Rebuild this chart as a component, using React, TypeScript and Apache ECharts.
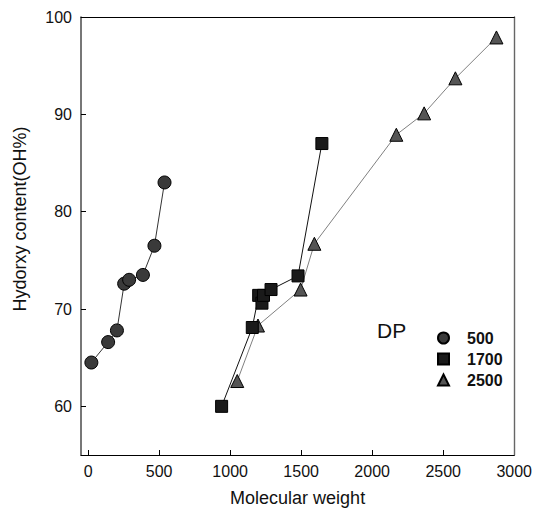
import { useEffect, useRef } from "react";
import * as echarts from "echarts";

const mw500 = [23, 141, 203, 254, 289, 386, 467, 538];
const oh500 = [64.5, 66.6, 67.8, 72.6, 73.0, 73.5, 76.5, 83.0];
const mw1700 = [940, 1156, 1201, 1224, 1235, 1288, 1478, 1646];
const oh1700 = [60.0, 68.1, 71.4, 70.6, 71.4, 72.0, 73.4, 87.0];
const mw2500 = [1050, 1196, 1496, 1593, 2170, 2366, 2586, 2875];
const oh2500 = [62.6, 68.3, 72.0, 76.7, 87.9, 90.1, 93.7, 97.9];

const xLabels = [0, 500, 1000, 1500, 2000, 2500, 3000];
const xTicks = [0, 500, 1000, 1500, 2000, 2500];
const yLabels = [60, 70, 80, 90, 100];
const yTicks = [60, 70, 80, 90];

const zip = (a: number[], b: number[]) => a.map((v, i) => [v, b[i]]);

export default function App() {
  const ref = useRef<HTMLDivElement>(null);
  useEffect(() => {
    const chart = echarts.init(ref.current!, null, { renderer: "svg" });
    const font = "'Liberation Sans', Arial, sans-serif";
    chart.setOption({
      animation: false,
      textStyle: { fontFamily: font },
      grid: { left: 81, top: 17, right: 14, bottom: 56, containLabel: false },
      xAxis: [
        {
          type: "value",
          min: -50,
          max: 3000,
          name: "Molecular weight",
          nameLocation: "middle",
          nameGap: 34,
          nameTextStyle: { fontSize: 18, color: "#111", fontFamily: font },
          axisLine: { onZero: false, lineStyle: { color: "#000", width: 1.2 } },
          axisTick: { inside: true, length: 5, customValues: xTicks, lineStyle: { color: "#000" } },
          axisLabel: {
            customValues: xLabels,
            fontSize: 16,
            color: "#111",
            margin: 8,
            fontFamily: font,
            formatter: (v: number) => String(v),
          },
          splitLine: { show: false },
        },
        {
          type: "value",
          position: "top",
          min: -50,
          max: 3000,
          axisLine: { show: true, onZero: false, lineStyle: { color: "#000", width: 1 } },
          axisTick: { show: false },
          axisLabel: { show: false },
          splitLine: { show: false },
        },
      ],
      yAxis: [
        {
          type: "value",
          min: 55,
          max: 100,
          axisLine: { show: true, onZero: false, lineStyle: { color: "#555", width: 1.6 } },
          axisTick: { show: true, inside: true, length: 5, customValues: yTicks, lineStyle: { color: "#000" } },
          axisLabel: {
            customValues: yLabels,
            fontSize: 16,
            color: "#111",
            margin: 9,
            fontFamily: font,
            formatter: (v: number) => String(v),
          },
          splitLine: { show: false },
        },
        {
          type: "value",
          position: "right",
          min: 55,
          max: 100,
          axisLine: { show: true, onZero: false, lineStyle: { color: "#666", width: 1.4 } },
          axisTick: { show: false },
          axisLabel: { show: false },
          splitLine: { show: false },
        },
      ],
      legend: {
        orient: "vertical",
        left: 432,
        top: 325,
        itemWidth: 11,
        itemHeight: 11,
        itemGap: 5,
        data: [
          { name: "500", icon: "circle" },
          { name: "1700", icon: "rect" },
          { name: "2500", icon: "triangle" },
        ],
        textStyle: { fontSize: 16, fontWeight: "bold", color: "#111", fontFamily: font, padding: [0, 0, 0, 13] },
      },
      graphic: [
        {
          type: "text",
          left: 377,
          top: 320,
          style: { text: "DP", fontSize: 21, fill: "#111", fontFamily: font },
        },
        {
          type: "text",
          x: 20,
          y: 219,
          rotation: Math.PI / 2,
          style: {
            text: "Hydorxy content(OH%)",
            fontSize: 18,
            fill: "#111",
            fontFamily: font,
            align: "center",
            verticalAlign: "middle",
          },
        },
      ],
      series: [
        {
          type: "line",
          name: "500",
          data: zip(mw500, oh500),
          symbol: "circle",
          symbolSize: 13,
          itemStyle: { color: "#3a3a3a", borderColor: "#000", borderWidth: 1 },
          lineStyle: { color: "#333", width: 1 },
          z: 3,
        },
        {
          type: "line",
          name: "1700",
          data: zip(mw1700, oh1700),
          symbol: "rect",
          symbolSize: 12,
          itemStyle: { color: "#1a1a1a", borderColor: "#000", borderWidth: 1 },
          lineStyle: { color: "#111", width: 1 },
          z: 3,
        },
        {
          type: "line",
          name: "2500",
          data: zip(mw2500, oh2500),
          symbol: "triangle",
          symbolSize: 13,
          itemStyle: { color: "#555", borderColor: "#000", borderWidth: 1 },
          lineStyle: { color: "#808080", width: 1 },
          z: 2,
        },
      ],
    });
    return () => chart.dispose();
  }, []);
  return <div ref={ref} style={{ width: 535, height: 512, position: "absolute", left: 0, top: 0 }} />;
}
